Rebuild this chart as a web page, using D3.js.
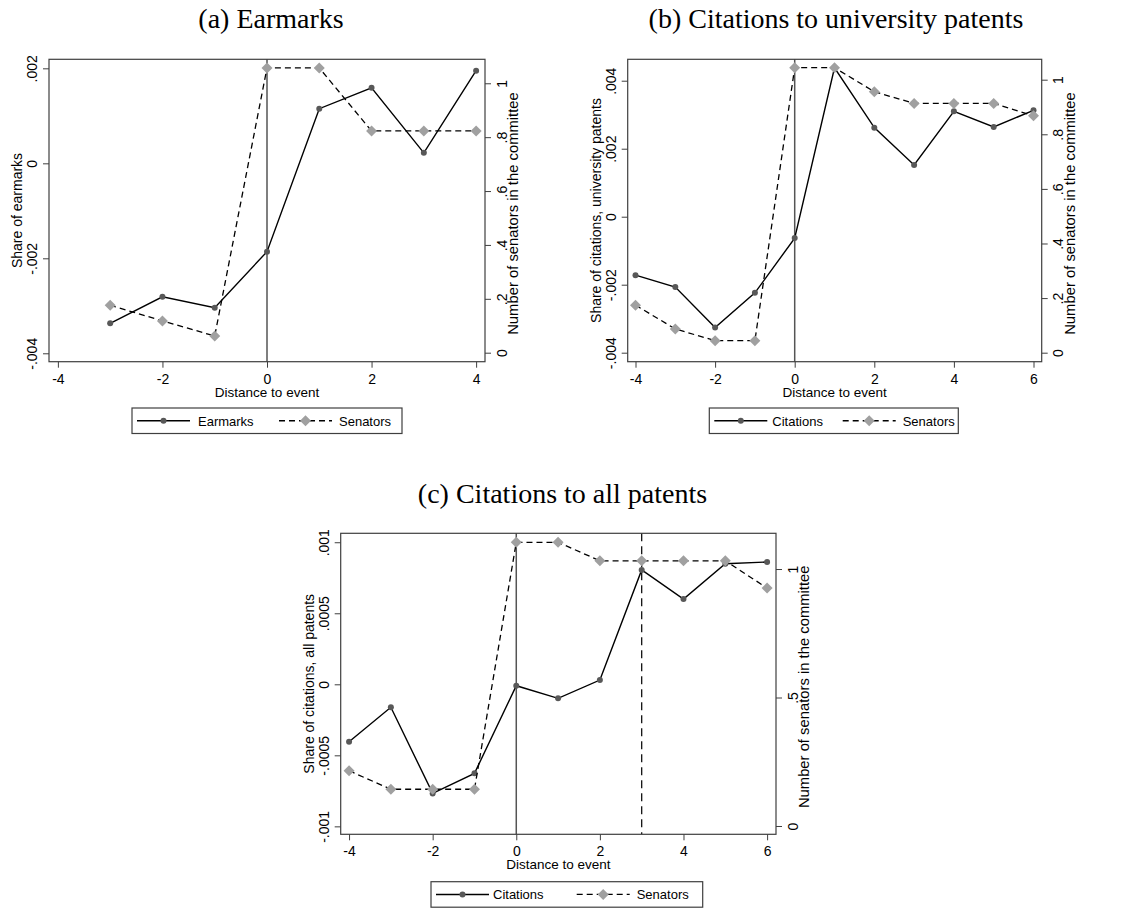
<!DOCTYPE html>
<html>
<head>
<meta charset="utf-8">
<script src="https://cdn.jsdelivr.net/npm/d3@7"></script>
<style>
  body { margin: 0; background: #fff; }
  svg { display: block; }
  .tick text { font-family: "Liberation Sans", Arial, sans-serif; font-size: 14px; fill: #000; }
</style>
</head>
<body>
<script>
// event time and series
const eventA = [-3, -2, -1, 0, 1, 2, 3, 4];
const earmarks = [-0.00337, -0.00281, -0.00304, -0.00186, 0.00115, 0.00159, 0.00022, 0.00195];
const senatorsA = [0.176, 0.118, 0.062, 1.057, 1.057, 0.823, 0.823, 0.823];

const eventB = [-4, -3, -2, -1, 0, 1, 2, 3, 4, 5, 6];
const citationsUniv = [-0.00172, -0.00207, -0.00326, -0.00224, -0.00063, 0.00438, 0.00262, 0.00152, 0.0031, 0.00264, 0.00313];
const senatorsB = [0.174, 0.087, 0.044, 0.044, 1.044, 1.044, 0.956, 0.913, 0.913, 0.913, 0.868];

const eventC = [-4, -3, -2, -1, 0, 1, 2, 3, 4, 5, 6];
const citationsAll = [-0.000404, -0.000162, -0.000768, -0.000627, -0.00001, -0.0000986, 0.00003, 0.000805, 0.0006, 0.000849, 0.000861];
const senatorsC = [0.215, 0.143, 0.143, 0.143, 1.104, 1.104, 1.032, 1.032, 1.032, 1.032, 0.926];

// tick values
const xTicksA = [-4, -2, 0, 2, 4];
const xTicksBC = [-4, -2, 0, 2, 4, 6];
const leftTicksA = [-0.004, -0.002, 0, 0.002];
const leftTicksB = [-0.004, -0.002, 0, 0.002, 0.004];
const leftTicksC = [-0.001, -0.0005, 0, 0.0005, 0.001];
const rightTicksAB = [0, 0.2, 0.4, 0.6, 0.8, 1];
const rightTicksC = [0, 0.5, 1];

const width = 1128, height = 908;
const sans = '"Liberation Sans", Arial, sans-serif';
const serif = '"Liberation Serif", "Times New Roman", serif';
const frameColor = "#3f3f3f";

// Stata style labels: .002, -.002, 0
const stata = v => String(+v.toPrecision(6)).replace(/^(-?)0\./, "$1.");

const svg = d3.select("body").append("svg")
    .attr("width", width)
    .attr("height", height);

function panel(p) {
  const x = d3.scaleLinear().domain(p.xDomain).range([p.left, p.right]);
  const yL = d3.scaleLinear().domain(p.leftDomain).range([p.bottom, p.top]);
  const yR = d3.scaleLinear().domain(p.rightDomain).range([p.bottom, p.top]);
  const g = svg.append("g");

  g.append("text")
      .attr("x", p.titleX).attr("y", p.titleY)
      .attr("text-anchor", "middle")
      .attr("font-family", serif)
      .attr("font-size", 28)
      .text(p.title);

  // x axis
  const ax = g.append("g")
      .attr("transform", `translate(0,${p.bottom})`)
      .call(d3.axisBottom(x).tickValues(p.xTicks).tickFormat(stata).tickSize(6).tickSizeOuter(0));
  ax.select(".domain").remove();
  ax.selectAll("line").attr("stroke", frameColor);
  ax.selectAll("text").attr("y", 22).attr("dy", 0);

  // left axis
  const al = g.append("g")
      .attr("transform", `translate(${p.left},0)`)
      .call(d3.axisLeft(yL).tickValues(p.leftTicks).tickFormat(stata).tickSize(6).tickSizeOuter(0));
  al.select(".domain").remove();
  al.selectAll("line").attr("stroke", frameColor);
  al.selectAll("text")
      .attr("transform", "rotate(-90)")
      .attr("x", 0).attr("y", -12).attr("dy", 0)
      .attr("text-anchor", "middle");

  // right axis
  const ar = g.append("g")
      .attr("transform", `translate(${p.right},0)`)
      .call(d3.axisRight(yR).tickValues(p.rightTicks).tickFormat(stata).tickSize(6).tickSizeOuter(0));
  ar.select(".domain").remove();
  ar.selectAll("line").attr("stroke", frameColor);
  ar.selectAll("text")
      .attr("transform", "rotate(-90)")
      .attr("x", 0).attr("y", 21.5).attr("dy", 0)
      .attr("text-anchor", "middle");

  // axis titles
  g.append("text")
      .attr("x", (p.left + p.right) / 2).attr("y", p.bottom + 35)
      .attr("text-anchor", "middle")
      .attr("font-family", sans).attr("font-size", 13.5)
      .text("Distance to event");
  g.append("text")
      .attr("transform", `translate(${p.left - 27},${(p.top + p.bottom) / 2}) rotate(-90)`)
      .attr("text-anchor", "middle")
      .attr("font-family", sans).attr("font-size", 14)
      .text(p.leftTitle);
  g.append("text")
      .attr("transform", `translate(${p.right + 33},${(p.top + p.bottom) / 2 + 3}) rotate(-90)`)
      .attr("text-anchor", "middle")
      .attr("font-family", sans).attr("font-size", 14.8)
      .text("Number of senators in the committee");

  // reference lines
  g.append("line")
      .attr("x1", x(0)).attr("x2", x(0))
      .attr("y1", p.top).attr("y2", p.bottom)
      .attr("stroke", "#555").attr("stroke-width", 1.5);
  if (p.dashedAt != null) {
    g.append("line")
        .attr("x1", x(p.dashedAt)).attr("x2", x(p.dashedAt))
        .attr("y1", p.top).attr("y2", p.bottom)
        .attr("stroke", "#111").attr("stroke-width", 1.3)
        .attr("stroke-dasharray", "8,5");
  }

  // frame
  g.append("rect")
      .attr("x", p.left).attr("y", p.top)
      .attr("width", p.right - p.left).attr("height", p.bottom - p.top)
      .attr("fill", "none").attr("stroke", frameColor).attr("stroke-width", 1.2);

  const main = p.event.map((e, i) => [e, p.main[i]]);
  const sen = p.event.map((e, i) => [e, p.senators[i]]);

  g.append("path")
      .attr("d", d3.line().x(d => x(d[0])).y(d => yL(d[1]))(main))
      .attr("fill", "none").attr("stroke", "#000").attr("stroke-width", 1.4);
  g.selectAll(".dot").data(main).join("circle")
      .attr("cx", d => x(d[0])).attr("cy", d => yL(d[1]))
      .attr("r", 3).attr("fill", "#585858");

  g.append("path")
      .attr("d", d3.line().x(d => x(d[0])).y(d => yR(d[1]))(sen))
      .attr("fill", "none").attr("stroke", "#000").attr("stroke-width", 1.3)
      .attr("stroke-dasharray", "6,4");
  g.selectAll(".dia").data(sen).join("path")
      .attr("transform", d => `translate(${x(d[0])},${yR(d[1])})`)
      .attr("d", "M0,-5.5L5.5,0L0,5.5L-5.5,0Z")
      .attr("fill", "#a0a0a0");

  // legend
  const L = p.legend;
  const lg = g.append("g").attr("transform", `translate(${L.x},${L.y})`);
  lg.append("rect")
      .attr("width", L.w).attr("height", 25.5)
      .attr("fill", "#fff").attr("stroke", frameColor).attr("stroke-width", 1.2);
  const cy = 12.75;
  lg.append("line").attr("x1", 5).attr("x2", 58).attr("y1", cy).attr("y2", cy)
      .attr("stroke", "#000").attr("stroke-width", 1.4);
  lg.append("circle").attr("cx", 31.5).attr("cy", cy).attr("r", 3).attr("fill", "#585858");
  lg.append("text").attr("x", L.text1).attr("y", cy + 5)
      .attr("font-family", sans).attr("font-size", 13).text(p.mainName);
  lg.append("line").attr("x1", L.col2).attr("x2", L.col2 + 53).attr("y1", cy).attr("y2", cy)
      .attr("stroke", "#000").attr("stroke-width", 1.3).attr("stroke-dasharray", "6,4");
  lg.append("path").attr("transform", `translate(${L.col2 + 26.5},${cy})`)
      .attr("d", "M0,-5.5L5.5,0L0,5.5L-5.5,0Z").attr("fill", "#a0a0a0");
  lg.append("text").attr("x", L.col2 + 60).attr("y", cy + 5)
      .attr("font-family", sans).attr("font-size", 13).text("Senators");
}

panel({
  title: "(a) Earmarks", titleX: 271, titleY: 28,
  left: 49, right: 485, top: 59.3, bottom: 361.7,
  xDomain: [-4.17, 4.17], leftDomain: [-0.004177, 0.00219], rightDomain: [-0.0334, 1.089],
  xTicks: xTicksA, leftTicks: leftTicksA, rightTicks: rightTicksAB,
  leftTitle: "Share of earmarks",
  event: eventA, main: earmarks, senators: senatorsA, mainName: "Earmarks",
  legend: {x: 132, y: 408, w: 270, text1: 66, col2: 147}
});

panel({
  title: "(b) Citations to university patents", titleX: 836, titleY: 28,
  left: 627.7, right: 1041.7, top: 59.3, bottom: 361.7,
  xDomain: [-4.196, 6.206], leftDomain: [-0.004265, 0.00463], rightDomain: [-0.033, 1.0747],
  xTicks: xTicksBC, leftTicks: leftTicksB, rightTicks: rightTicksAB,
  leftTitle: "Share of citations, university patents",
  event: eventB, main: citationsUniv, senators: senatorsB, mainName: "Citations",
  legend: {x: 709.3, y: 408, w: 249, text1: 63, col2: 133.4}
});

panel({
  title: "(c) Citations to all patents", titleX: 562.5, titleY: 503,
  left: 340.7, right: 776, top: 533.3, bottom: 834.3,
  xDomain: [-4.2, 6.213], leftDomain: [-0.001056, 0.001063], rightDomain: [-0.0323, 1.139],
  xTicks: xTicksBC, leftTicks: leftTicksC, rightTicks: rightTicksC,
  leftTitle: "Share of citations, all patents",
  event: eventC, main: citationsAll, senators: senatorsC, mainName: "Citations",
  dashedAt: 3,
  legend: {x: 431, y: 881.7, w: 271.7, text1: 62, col2: 145.7}
});
</script>
</body>
</html>
